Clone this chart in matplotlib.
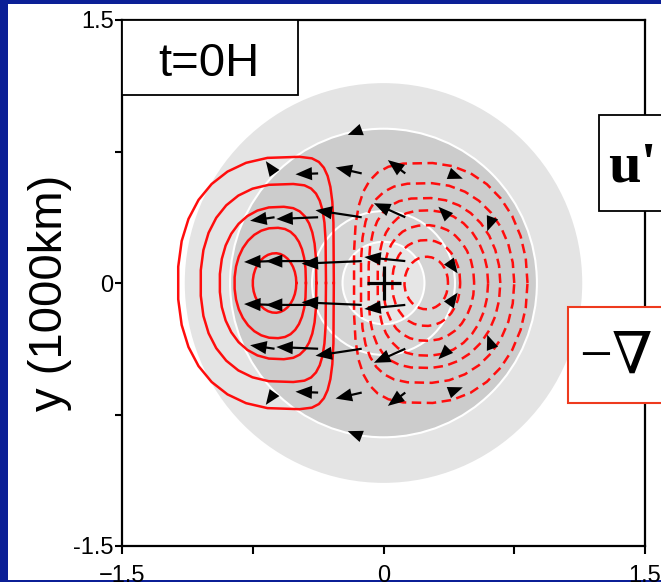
import numpy as np
import matplotlib
matplotlib.use('Agg')
import matplotlib.pyplot as plt
from matplotlib.patches import Rectangle, Circle

plt.rcParams['font.family'] = ['Liberation Sans', 'DejaVu Sans']

# shaded rings (radius, fill colour), outer to inner
ring_r = [1.14, 0.88, 0.41, 0.235]
ring_fill = ['#e4e4e4', '#cccccc', '#d4d4d4', '#e6e6e6']
ring_edge = ['none', 'white', 'white', 'white']

# solid red contours (positive lobe): left edge, x of widest point, right edge, half height
sol_left = [-1.18, -1.05, -0.94, -0.855, -0.75]
sol_peak = [-0.55, -0.57, -0.60, -0.62, -0.62]
sol_right = [-0.285, -0.33, -0.385, -0.445, -0.50]
sol_half = [0.72, 0.565, 0.435, 0.315, 0.17]
sol_pl = [2.3, 2.3, 2.2, 2.1, 2.0]
sol_pr = [4.5, 4.0, 3.0, 2.5, 2.0]

# dashed red contours (negative lobe)
dash_left = [-0.17, -0.13, -0.086, -0.034, 0.0, 0.05, 0.12]
dash_peak = [0.25, 0.25, 0.25, 0.25, 0.25, 0.245, 0.245]
dash_right = [0.826, 0.75, 0.67, 0.60, 0.52, 0.44, 0.37]
dash_half = [0.685, 0.57, 0.485, 0.415, 0.33, 0.245, 0.15]
dash_pl = [3.5, 3.2, 3.0, 2.6, 2.4, 2.2, 2.0]

# arrows (u') : tail x, tail y, dx, dy
arr_x = [-0.125,
         -0.625, -0.375, -0.125, 0.125, 0.375,
         -0.625, -0.375, -0.125, 0.125, 0.375, 0.625,
         -0.625, -0.375, -0.125, 0.125, 0.375,
         -0.625, -0.375, -0.125, 0.125, 0.375,
         -0.625, -0.375, -0.125, 0.125, 0.375, 0.625,
         -0.625, -0.375, -0.125, 0.125, 0.375,
         -0.125]
arr_y = [0.875,
         0.625, 0.625, 0.625, 0.625, 0.625,
         0.375, 0.375, 0.375, 0.375, 0.375, 0.375,
         0.125, 0.125, 0.125, 0.125, 0.125,
         -0.125, -0.125, -0.125, -0.125, -0.125,
         -0.375, -0.375, -0.375, -0.375, -0.375, -0.375,
         -0.625, -0.625, -0.625, -0.625, -0.625,
         -0.875]
arr_u = [-0.08,
         -0.05, -0.13, -0.15, -0.10, 0.08,
         -0.14, -0.24, -0.265, -0.18, -0.06, -0.03,
         -0.175, -0.30, -0.345, -0.235, 0.05,
         -0.175, -0.30, -0.345, -0.235, 0.05,
         -0.14, -0.24, -0.265, -0.18, -0.06, -0.03,
         -0.05, -0.13, -0.15, -0.10, 0.08,
         -0.08]
arr_v = [-0.03,
         0.07, -0.005, 0.034, 0.076, -0.03,
         -0.02, -0.01, 0.04, 0.08, 0.06, -0.08,
         -0.005, 0.0, -0.015, 0.023, -0.07,
         0.005, 0.0, 0.015, -0.023, 0.07,
         0.02, 0.01, -0.04, -0.08, -0.06, 0.08,
         -0.07, 0.005, -0.034, -0.076, 0.03,
         0.03]

xticks = [-1.5, -0.75, 0, 0.75, 1.5]
xlabels = ['\u22121.5', '', '0', '', '1.5']
ylabels = ['-1.5', '', '0', '', '1.5']


def lobe(left, peak, right, half, pl, pr, n=34):
    t = np.linspace(0, 2 * np.pi, n)
    c, s = np.cos(t), np.sin(t)
    p = np.where(c >= 0, pr, pl)
    ext = np.where(c >= 0, right - peak, peak - left)
    x = peak + ext * np.sign(c) * np.abs(c) ** (2 / p)
    y = half * np.sign(s) * np.abs(s) ** (2 / p)
    return x, y


fig = plt.figure(figsize=(6.61, 5.82), dpi=100, facecolor='#0b1f96')
fig.add_artist(Rectangle((8 / 661, 2 / 582), 1, 576 / 582, transform=fig.transFigure,
                         facecolor='white', edgecolor='none', zorder=-1))
ax = fig.add_axes([122 / 661, 36 / 582, 523 / 661, 526 / 582])
ax.set_xlim(-1.5, 1.5)
ax.set_ylim(-1.5, 1.5)

for r, fc, ec in zip(ring_r, ring_fill, ring_edge):
    ax.add_patch(Circle((0, 0), r, facecolor=fc, edgecolor=ec, lw=1.5, zorder=1))

for i in range(len(sol_left)):
    x, y = lobe(sol_left[i], sol_peak[i], sol_right[i], sol_half[i], sol_pl[i], sol_pr[i])
    ax.plot(x, y, color='#ff0d0d', lw=1.8, zorder=3)

for i in range(len(dash_left)):
    x, y = lobe(dash_left[i], dash_peak[i], dash_right[i], dash_half[i], dash_pl[i], 2.1)
    ax.plot(x, y, color='#ff0d0d', lw=1.8, dashes=(3.8, 2.2), zorder=3)

ax.quiver(arr_x, arr_y, arr_u, arr_v, angles='xy', scale_units='xy', scale=1,
          units='dots', width=2.2, headlength=7.5, headwidth=6, headaxislength=7.5,
          color='black', zorder=4)

ax.plot(0, 0, marker='+', ms=25, mew=2.3, color='black', zorder=5)

ax.set_xticks(xticks)
ax.set_xticklabels(xlabels)
ax.set_yticks(xticks)
ax.set_yticklabels(ylabels)
ax.tick_params(axis='x', direction='out', length=6, width=1.5, labelsize=17, pad=8)
ax.tick_params(axis='y', direction='out', length=5, width=1.5, labelsize=17, pad=1)
for sp in ax.spines.values():
    sp.set_linewidth(1.6)

fig.text(50 / 661, 1 - 293 / 582, 'y (1000km)', rotation=90, fontsize=34,
         ha='center', va='center')

# label boxes
ax.add_patch(Rectangle((-1.5, 1.074), 1.007, 0.426, facecolor='white', edgecolor='black',
                       lw=1.3, zorder=6, clip_on=False))
ax.text(-1.0, 1.183, 't=0H', fontsize=34, ha='center', va='baseline', zorder=7)

ax.add_patch(Rectangle((1.239, 0.411), 1.5, 0.549, facecolor='white', edgecolor='black',
                       lw=1.3, zorder=6, clip_on=False))
ax.text(1.29, 0.577, "u'", fontsize=42, fontweight='bold', family=['Liberation Serif', 'DejaVu Serif'],
        ha='left', va='baseline', zorder=7, clip_on=False)

ax.add_patch(Rectangle((1.056, -0.686), 1.5, 0.549, facecolor='white', edgecolor='#ee3a1e',
                       lw=1.5, zorder=6, clip_on=False))
ax.text(1.12, -0.514, '\u2212\u2207', fontsize=42, family=['Liberation Serif', 'DejaVu Serif'],
        ha='left', va='baseline', zorder=7, clip_on=False)

fig.savefig('out.png', dpi=100, facecolor=fig.get_facecolor())
